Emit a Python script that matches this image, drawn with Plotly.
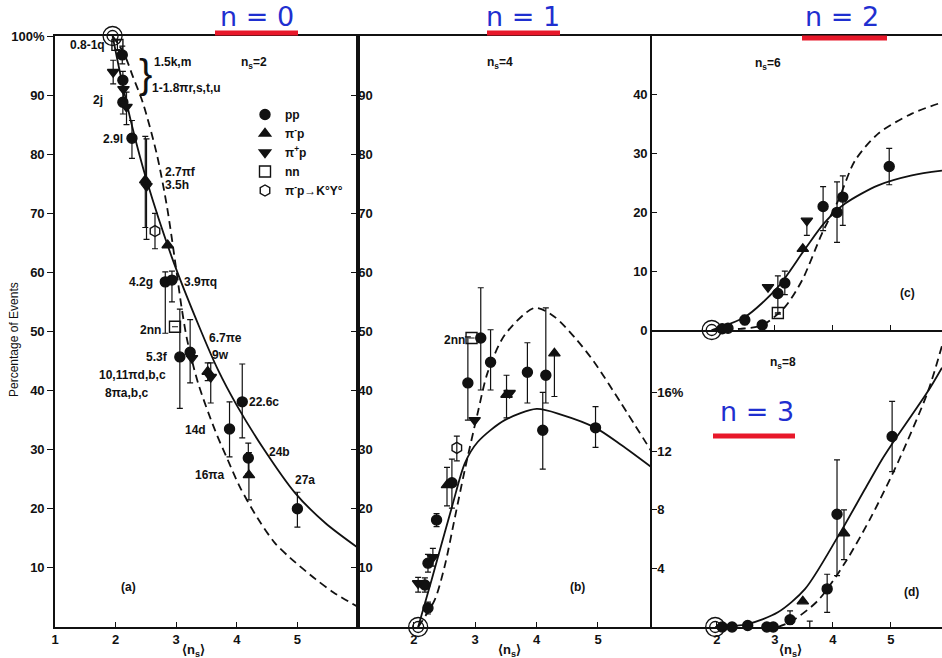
import plotly.graph_objects as go

# ---------------- data ----------------
SERIES = ["pp", "pim", "pip", "nn", "kyo"]
SERIES_NAME = {"pp": "pp", "pim": "π<sup>-</sup>p", "pip": "π<sup>+</sup>p",
               "nn": "nn", "kyo": "π<sup>-</sup>p→K°Y°"}
SERIES_SYMBOL = {"pp": "circle", "pim": "triangle-up", "pip": "triangle-down",
                 "nn": "square-open", "kyo": "hexagon-open"}

# panel (a): n_s = 2
a_type = ["nn", "pp", "pip", "pp", "pip", "pp", "pip", "pp", "pim", "pip", "kyo", "pim",
          "pp", "pp", "nn", "pp", "pp", "pip", "pim", "pip", "pp", "pp", "pp", "pim", "pp"]
a_x = [2.03, 2.11, 1.96, 2.12, 2.13, 2.12, 2.18, 2.27, 2.49, 2.51, 2.65, 2.86,
       2.82, 2.93, 2.98, 3.06, 3.23, 3.26, 3.52, 3.57, 3.88, 4.09, 4.19, 4.20, 5.00]
a_y = [98.5, 96.8, 93.9, 92.5, 91.0, 88.8, 88.0, 82.7, 75.6, 74.6, 67.0, 64.6,
       58.4, 58.7, 50.8, 45.7, 46.5, 45.5, 43.2, 42.3, 33.5, 38.1, 28.6, 25.7, 20.0]
a_ep = [0.8, 1.5, 2.0, 1.5, 2.0, 2.0, 2.5, 3.0, 7.4, 8.0, 3.0, 0,
        1.7, 1.5, 0, 8.1, 5.5, 0, 1.5, 2.4, 4.6, 6.4, 2.5, 3.8, 2.8]
a_em = [0.8, 1.5, 2.0, 1.5, 2.0, 2.0, 3.0, 3.4, 8.0, 9.0, 3.0, 0,
        8.7, 3.7, 0, 8.7, 5.2, 0, 1.5, 4.4, 4.7, 6.1, 2.7, 4.2, 3.1]
a_solid_x = [1.95, 2.10, 2.29, 2.50, 2.93, 3.38, 3.69, 4.00, 4.42, 4.96, 5.46, 6.00]
a_solid_y = [100, 92.5, 84, 76, 62.5, 50.8, 43.5, 37.5, 30.5, 22.7, 17.6, 13.4]
a_dash_x = [1.95, 2.14, 2.29, 2.45, 2.68, 2.85, 2.98, 3.09, 3.18, 3.36, 3.64, 3.85,
            4.05, 4.35, 4.63, 4.88, 5.30, 5.59, 6.00]
a_dash_y = [100, 97, 93, 88.7, 80, 71, 62, 54, 48.6, 41.3, 33.3, 28.3,
            23.7, 18.3, 14.2, 11.7, 8.1, 5.9, 3.4]

# panel (b): n_s = 4
b_type = ["pp", "pip", "pp", "pp", "pip", "pp", "pim", "pp", "kyo", "pp", "nn", "pip",
          "pp", "pp", "pim", "pip", "pp", "pp", "pp", "pim", "pp"]
b_x = [2.23, 2.07, 2.18, 2.23, 2.31, 2.37, 2.54, 2.62, 2.70, 2.88, 2.94, 2.99,
       3.09, 3.25, 3.51, 3.56, 3.85, 4.10, 4.15, 4.29, 4.96]
b_y = [3.2, 7.4, 7.1, 10.8, 11.8, 18.1, 24.0, 24.4, 30.3, 41.3, 48.9, 35.0,
       48.9, 44.8, 39.3, 39.6, 43.1, 33.3, 42.6, 46.3, 33.7]
b_ep = [1.0, 1.0, 1.2, 1.5, 1.5, 1.1, 3.0, 4.0, 2.0, 7.8, 0, 0,
        8.5, 5.5, 3.3, 0, 5.0, 6.4, 11.4, 0, 3.6]
b_em = [1.0, 1.5, 1.2, 1.5, 1.5, 1.1, 3.5, 4.3, 2.2, 6.3, 0, 0,
        8.8, 4.7, 3.9, 0, 5.2, 6.6, 4.7, 7.3, 3.3]
b_solid_x = [2.07, 2.29, 2.62, 2.83, 3.04, 3.48, 4.00, 4.41, 4.96, 5.38, 5.89]
b_solid_y = [0, 8, 20.3, 27.7, 31.3, 35.0, 36.9, 35.9, 33.7, 30.8, 26.9]
b_dash_x = [2.07, 2.34, 2.50, 2.67, 2.83, 3.04, 3.20, 3.48, 3.97, 4.29, 4.62, 4.94, 5.38, 5.89]
b_dash_y = [0, 4.6, 10.2, 18.6, 26.6, 36.2, 43.0, 49.4, 54.0, 52.5, 49.0, 44.8, 37.8, 29.4]

# panel (c): n_s = 6
c_type = ["pp", "pp", "pp", "pp", "pip", "pp", "nn", "pp", "pim", "pip", "pp", "pp", "pp", "pp"]
c_x = [2.09, 2.19, 2.48, 2.78, 2.88, 3.05, 3.05, 3.17, 3.48, 3.55, 3.83, 4.07, 4.17, 4.97]
c_y = [0.2, 0.3, 1.7, 0.85, 7.3, 6.2, 2.9, 8.0, 13.8, 18.6, 21.0, 20.0, 22.6, 27.8]
c_ep = [0, 0.3, 0.8, 0.3, 0, 3.0, 0, 2.0, 0, 0, 3.4, 5.2, 3.6, 3.1]
c_em = [0, 0.3, 0.8, 0.3, 0, 3.5, 0, 2.0, 0, 2.5, 4.1, 5.1, 4.8, 3.1]
c_solid_x = [1.91, 2.48, 3.05, 3.52, 3.86, 4.21, 4.78, 5.36, 5.88]
c_solid_y = [0, 2.2, 7.3, 13.8, 18.3, 21.5, 24.6, 26.3, 27.1]
c_dash_x = [1.91, 2.40, 2.78, 3.17, 3.47, 3.81, 4.09, 4.38, 4.78, 5.36, 5.88]
c_dash_y = [0, 0.2, 0.8, 3.9, 8.5, 16.4, 22.0, 28.8, 33.4, 36.8, 38.7]

# panel (d): n_s = 8
d_type = ["pp", "pp", "pp", "pp", "pp", "pp", "pip", "pip", "pim", "pim", "pip",
          "pp", "pp", "pim", "pp"]
d_x = [2.09, 2.26, 2.53, 2.86, 2.97, 3.26, 2.22, 2.34, 2.71, 3.48, 3.60,
       3.90, 4.07, 4.19, 5.02]
d_y = [0, 0, 0.1, 0, 0, 0.5, -0.95, -0.95, -0.8, 1.75, -0.1,
       2.6, 7.7, 6.4, 13.0]
d_ep = [0, 0, 0, 0, 0, 0.6, 0, 0, 0, 0, 0.5, 1.0, 3.7, 1.6, 2.4]
d_em = [0, 0, 0, 0, 0, 0.3, 0, 0, 0, 0, 0, 1.6, 4.2, 1.8, 2.4]
d_solid_x = [1.97, 2.53, 3.05, 3.52, 4.09, 4.55, 4.84, 5.02, 5.64, 5.88]
d_solid_y = [0, 0.2, 1.0, 2.6, 6.2, 9.4, 11.4, 12.5, 16.1, 17.7]
d_dash_x = [3.05, 3.29, 3.74, 4.21, 4.67, 5.15, 5.64, 5.88]
d_dash_y = [0, 0.4, 1.8, 4.4, 7.6, 11.5, 16.1, 19.2]

# limiting point (all events with n_s = 2)
ring_x = [1.95, 2.07, 1.91, 1.97]
ring_y = [100, 0, 0, 0]

# ---------------- figure ----------------
W, H = 942, 658
ML, MR, MT, MB = 55, 0, 36, 31
PW, PH = W - ML - MR, H - MT - MB


def px(xp):
    return (xp - ML) / PW


def py(yp):
    return 1 - (yp - MT) / PH


fig = go.Figure()
INK = "#111111"
FONT = "Liberation Sans"

panels = [
    ("x", "y", a_type, a_x, a_y, a_ep, a_em, a_solid_x, a_solid_y, a_dash_x, a_dash_y),
    ("x2", "y2", b_type, b_x, b_y, b_ep, b_em, b_solid_x, b_solid_y, b_dash_x, b_dash_y),
    ("x3", "y3", c_type, c_x, c_y, c_ep, c_em, c_solid_x, c_solid_y, c_dash_x, c_dash_y),
    ("x4", "y4", d_type, d_x, d_y, d_ep, d_em, d_solid_x, d_solid_y, d_dash_x, d_dash_y),
]

shown = set()
for i, (xa, ya, ty, xs, ys, ep, em, sx, sy, dx, dy) in enumerate(panels):
    fig.add_trace(go.Scatter(x=sx, y=sy, mode="lines", xaxis=xa, yaxis=ya,
                             line=dict(color=INK, width=1.8, shape="spline", smoothing=0.8),
                             showlegend=False, hoverinfo="skip"))
    fig.add_trace(go.Scatter(x=dx, y=dy, mode="lines", xaxis=xa, yaxis=ya,
                             line=dict(color=INK, width=1.8, dash="8px,5px",
                                       shape="spline", smoothing=0.8),
                             showlegend=False, hoverinfo="skip"))
    for s in SERIES:
        idx = [k for k, t in enumerate(ty) if t == s]
        if not idx:
            continue
        open_sym = s in ("nn", "kyo")
        fig.add_trace(go.Scatter(
            x=[xs[k] for k in idx], y=[ys[k] for k in idx], mode="markers",
            xaxis=xa, yaxis=ya, name=SERIES_NAME[s], legendgroup=s,
            showlegend=(s not in shown),
            cliponaxis=False,
            marker=dict(symbol=SERIES_SYMBOL[s], size=11 if open_sym else 10,
                        color=INK, line=dict(color=INK, width=1.4)),
            error_y=dict(type="data", symmetric=False,
                         array=[ep[k] for k in idx], arrayminus=[em[k] for k in idx],
                         color=INK, thickness=1.2, width=3)))
        shown.add(s)
    # limiting ring
    fig.add_trace(go.Scatter(x=[ring_x[i]], y=[ring_y[i]], mode="markers", xaxis=xa, yaxis=ya,
                             cliponaxis=False, showlegend=False, hoverinfo="skip",
                             marker=dict(symbol="circle-open", size=19, color=INK,
                                         line=dict(color=INK, width=1.3))))
    fig.add_trace(go.Scatter(x=[ring_x[i]], y=[ring_y[i]], mode="markers", xaxis=xa, yaxis=ya,
                             cliponaxis=False, showlegend=False, hoverinfo="skip",
                             marker=dict(symbol="circle-open", size=11, color=INK,
                                         line=dict(color=INK, width=1.3))))

tickfont = dict(family=FONT, size=13, color=INK, weight="bold")
axline = dict(showline=True, linecolor=INK, linewidth=1.6, showgrid=False, zeroline=False,
              tickfont=tickfont, tickcolor=INK, tickwidth=1.3)

d_a = [0, px(358)]
d_b = [px(358), px(652)]
d_c = [px(652), 1]
split = py(330)

fig.update_layout(
    width=W, height=H, margin=dict(l=ML, r=MR, t=MT, b=MB),
    paper_bgcolor="white", plot_bgcolor="white",
    font=dict(family=FONT, color=INK),
    xaxis=dict(domain=d_a, range=[1, 6.0], tickvals=[1, 2, 3, 4, 5], ticks="inside",
               ticklen=5, mirror=True, anchor="y", **axline),
    yaxis=dict(domain=[0, 1], range=[0, 100], tickvals=[10, 20, 30, 40, 50, 60, 70, 80, 90, 100],
               ticktext=["10", "20", "30", "40", "50", "60", "70", "80", "90", "100%"],
               ticks="outside", ticklen=6, mirror=True, anchor="x", **axline),
    xaxis2=dict(domain=d_b, range=[1.09, 5.88], tickvals=[2, 3, 4, 5], ticks="inside",
                ticklen=5, mirror=True, anchor="y2", **axline),
    yaxis2=dict(domain=[0, 1], range=[0, 100], tickvals=[10, 20, 30, 40, 50, 60, 70, 80, 90],
                ticks="outside", ticklen=5, ticklabelposition="inside", anchor="x2", **axline),
    xaxis3=dict(domain=d_c, range=[0.88, 5.88], tickvals=[3, 4, 5], ticks="inside",
                ticklen=5, showticklabels=False, mirror=True, anchor="y3", **axline),
    yaxis3=dict(domain=[split, 1], range=[0, 50], tickvals=[0, 10, 20, 30, 40],
                ticks="inside", ticklen=5, anchor="x3", **axline),
    xaxis4=dict(domain=d_c, range=[0.88, 5.88], tickvals=[2, 3, 4, 5], ticks="inside",
                ticklen=5, mirror=False, anchor="y4", **axline),
    yaxis4=dict(domain=[0, split], range=[0, 20.27], tickvals=[4, 8, 12, 16],
                ticktext=["4", "8", "12", "16%"], ticks="inside", ticklen=5,
                ticklabelposition="inside", anchor="x4", **axline),
    legend=dict(x=px(245), y=py(100), xanchor="left", yanchor="top",
                bgcolor="rgba(0,0,0,0)",
                font=dict(family=FONT, size=12, color=INK, weight="bold"),
                tracegroupgap=0, itemwidth=30),
    showlegend=True,
)

lab = dict(family=FONT, size=12, color=INK, weight="bold")
ann = []


def A(text, x, y, xref, yref, xa="center", **kw):
    d = dict(text=text, x=x, y=y, xref=xref, yref=yref, showarrow=False,
             xanchor=xa, yanchor="middle", font=kw.pop("font", lab))
    d.update(kw)
    ann.append(d)


# panel (a) labels
for t, x, y, xa in [("0.8-1q", 1.86, 98.5, "right"), ("1.5k,m", 2.6, 95.6, "left"),
                    ("1-1.8πr,s,t,u", 2.57, 91.2, "left"), ("2j", 1.71, 89.2, "center"),
                    ("2.9l", 2.16, 82.6, "right"), ("2.7πf", 2.78, 77.0, "left"),
                    ("3.5h", 2.78, 74.8, "left"), ("4.2g", 2.65, 58.4, "right"),
                    ("3.9πq", 3.1, 58.4, "left"), ("2nn", 2.78, 50.3, "right"),
                    ("6.7πe", 3.51, 48.9, "left"), ("5.3f", 2.9, 45.7, "right"),
                    ("9w", 3.56, 46.0, "left"), ("10,11πd,b,c", 1.69, 42.6, "left"),
                    ("8πa,b,c", 1.8, 39.6, "left"), ("22.6c", 4.17, 38.1, "left"),
                    ("14d", 3.53, 33.3, "right"), ("24b", 4.5, 29.6, "left"),
                    ("16πa", 3.84, 25.7, "right"), ("27a", 4.93, 24.9, "left"),
                    ("(a)", 2.22, 6.8, "center"), ("n<sub>s</sub>=2", 4.28, 95.4, "center")]:
    A(t, x, y, "x", "y", xa)
A("}", 2.49, 93.5, "x", "y", "center", font=dict(family=FONT, size=40, color=INK))

# panel (b)
A("n<sub>s</sub>=4", 3.41, 95.5, "x2", "y2")
A("2nn", 2.86, 48.6, "x2", "y2", "right")
A("(b)", 4.67, 6.8, "x2", "y2")
# panel (c)
A("n<sub>s</sub>=6", 2.88, 45.3, "x3", "y3")
A("(c)", 5.28, 6.3, "x3", "y3")
A("50%", 0.85, 50, "x3", "y3", "left", yanchor="bottom", yshift=-2)
# panel (d)
A("n<sub>s</sub>=8", 3.14, 18.0, "x4", "y4")
A("(d)", 5.36, 2.37, "x4", "y4")

# axis titles
for xp in (193, 510, 790):
    A("⟨n<sub>s</sub>⟩", px(xp), py(650), "paper", "paper",
      font=dict(family=FONT, size=13, color=INK, weight="bold"))
A("Percentage of Events", px(14), py(340), "paper", "paper", textangle=-90,
  font=dict(family=FONT, size=12, color=INK))

# handwritten notes
BLUE = "#1f2fd0"
for t, xp, yp in [("n = 0", 257, 17), ("n = 1", 523, 17), ("n = 2", 842, 17), ("n = 3", 757, 411)]:
    A(t, px(xp), py(yp), "paper", "paper", font=dict(family="DejaVu Sans", size=27, color=BLUE))
fig.update_layout(annotations=ann)

shapes = []
for x0, x1, yp in [(215, 298, 33), (487, 560, 33), (802, 887, 38), (713, 795, 436)]:
    shapes.append(dict(type="line", xref="paper", yref="paper", x0=px(x0), x1=px(x1),
                       y0=py(yp), y1=py(yp), line=dict(color="#e8182a", width=5)))
fig.update_layout(shapes=shapes)

fig.write_html("out.html")
